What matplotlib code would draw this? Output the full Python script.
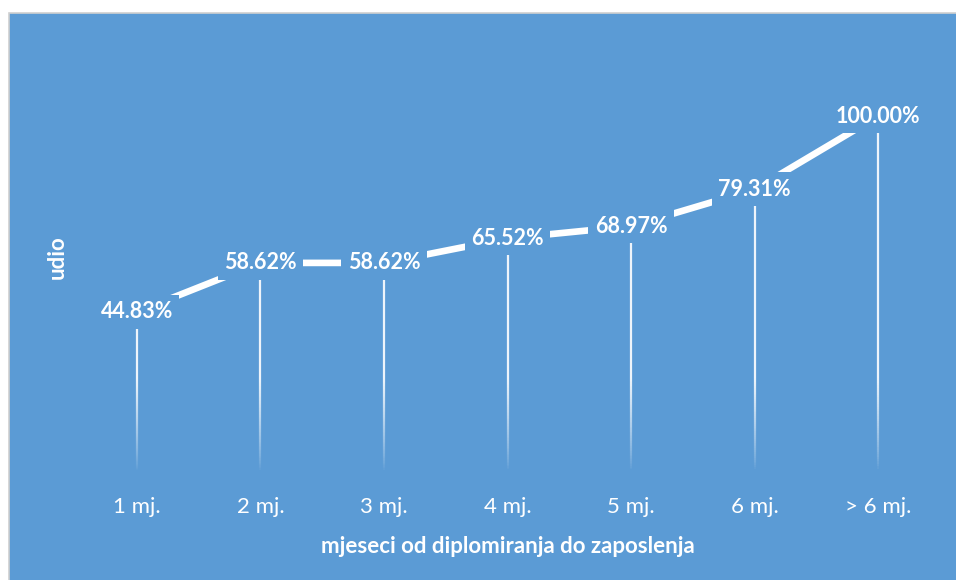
import numpy as np
import matplotlib
matplotlib.use("Agg")
import matplotlib.pyplot as plt
from matplotlib.collections import LineCollection
from matplotlib.patches import Rectangle

categories = ["1 mj.", "2 mj.", "3 mj.", "4 mj.", "5 mj.", "6 mj.", "> 6 mj."]
udio = [44.83, 58.62, 58.62, 65.52, 68.97, 79.31, 100.00]

BG = "#5B9BD5"
plt.rcParams["font.family"] = ["Lato", "DejaVu Sans"]

fig = plt.figure(figsize=(9.56, 5.8), dpi=100)
fig.patch.set_facecolor("white")
# chart area box with light grey border
fig.patches.append(Rectangle((9 / 956, -0.01), 1, 1 - 13 / 580 + 0.01,
                             transform=fig.transFigure, facecolor=BG,
                             edgecolor="#d0d0d0", linewidth=1.2, zorder=-5))

ax = fig.add_axes([75 / 956, 109 / 580, 865 / 956, 355 / 580])
ax.set_facecolor("none")
x = np.arange(len(categories))

# drop lines, fading out towards the axis
segs, cols = [], []
for xi, v in zip(x, udio):
    ys = np.linspace(0, v, 150)
    for y0, y1 in zip(ys[:-1], ys[1:]):
        segs.append([(xi, y0), (xi, y1)])
        a = np.clip(y0 / 26, 0, 1) ** 0.8 * 0.9
        cols.append((1, 1, 1, a))
ax.add_collection(LineCollection(segs, colors=cols, linewidths=1.6, zorder=1))

ax.plot(x, udio, color="white", linewidth=4.8, solid_capstyle="butt", zorder=2)

for xi, v in zip(x, udio):
    ax.text(xi, v, f"{v:.2f}%", ha="center", va="center", color="white",
            fontsize=15.5, fontweight="bold", zorder=3,
            bbox=dict(boxstyle="square,pad=0.3", facecolor=BG, edgecolor="none"))

ax.set_xlim(-0.5, len(categories) - 0.5)
ax.set_ylim(0, 100)
ax.set_xticks(x)
ax.set_xticklabels(categories, color="white", fontsize=16)
ax.tick_params(axis="x", length=0, pad=18.5)
ax.set_yticks([])
for s in ax.spines.values():
    s.set_visible(False)

ax.set_xlabel("mjeseci od diplomiranja do zaposlenja", color="white",
              fontsize=16, fontweight="bold", labelpad=14)
fig.text(57 / 956, 1 - 257 / 580, "udio", rotation=90, ha="center", va="center",
         color="white", fontsize=16, fontweight="bold")

fig.savefig("out.png", dpi=100, facecolor=fig.get_facecolor())
